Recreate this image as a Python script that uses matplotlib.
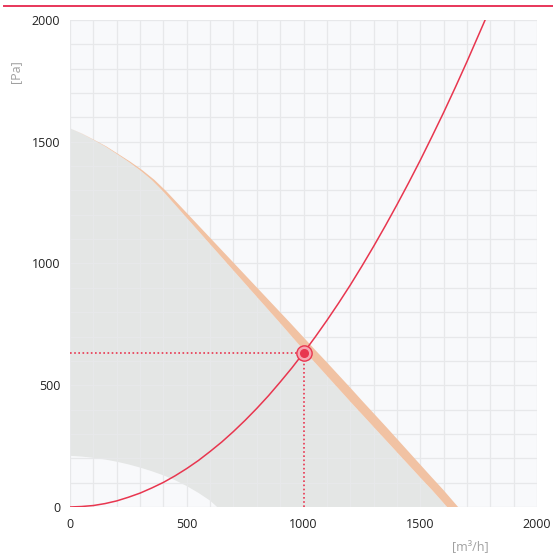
import matplotlib
matplotlib.use('Agg')
import matplotlib.pyplot as plt
from matplotlib.ticker import MultipleLocator

plt.rcParams['font.family'] = ['Open Sans', 'DejaVu Sans']

# fan curve, inner edge (top of the grey working area)
fan_q = [0, 50, 100, 150, 200, 250, 300, 350, 400, 450, 500, 550, 600, 650,
         700, 750, 800, 850, 900, 950, 1000, 1050, 1100, 1150, 1200, 1250,
         1300, 1350, 1400, 1450, 1500, 1550, 1615]
fan_p = [1555, 1533, 1508, 1481, 1450, 1418, 1383, 1343, 1295, 1241, 1187,
         1133, 1079, 1025, 971, 917, 863, 809, 755, 700, 645, 592, 539, 486,
         433, 381, 329, 277, 225, 173, 121, 70, 0]
# fan curve, outer edge of the orange band (same pressures)
fan_q_outer = [0, 52, 103, 155, 206, 258, 310, 362, 414, 467, 520, 573, 626,
               679, 732, 785, 838, 891, 944, 997, 1050, 1102, 1153, 1204,
               1254, 1304, 1354, 1403, 1452, 1501, 1550, 1599, 1662]

# minimum speed curve (lower edge of grey area)
min_q = [0, 50, 100, 150, 200, 250, 300, 350, 400, 450, 500, 550, 600, 630]
min_p = [210, 207, 202, 195, 186, 175, 162, 147, 130, 110, 86, 58, 26, 0]

# system curve
sys_q = [0, 50, 100, 150, 200, 250, 300, 350, 400, 450, 500, 550, 600, 650,
         700, 750, 800, 850, 900, 950, 1000, 1050, 1100, 1150, 1200, 1250,
         1300, 1350, 1400, 1450, 1500, 1550, 1600, 1650, 1700, 1750, 1780]
sys_p = [0, 2, 6, 14, 25, 40, 57, 78, 101, 128, 158, 191, 228, 267, 310, 356,
         405, 457, 513, 571, 633, 698, 766, 837, 911, 989, 1070, 1154, 1241,
         1331, 1424, 1521, 1620, 1723, 1829, 1939, 2005]

work_q, work_p = 1000, 633

RED = '#e8364f'

fig = plt.figure(figsize=(5.53, 5.55), dpi=100)
ax = fig.add_axes([0.1266, 0.0865, 0.8445, 0.8775])
ax.set_facecolor('#f8f9fb')

# grey working area
poly_q = fan_q + min_q[::-1]
poly_p = fan_p + min_p[::-1]
ax.fill(poly_q, poly_p, color='#e4e6e5', lw=0, zorder=1)

# orange band
band_q = fan_q + fan_q_outer[::-1]
band_p = fan_p + fan_p[::-1]
ax.fill(band_q, band_p, color='#f1c2a3', lw=0, zorder=2)

ax.plot(sys_q, sys_p, color=RED, lw=1.1, zorder=3)

ax.plot([0, work_q], [work_p, work_p], color=RED, lw=1.2, ls=(0, (1, 1.5)), zorder=3)
ax.plot([work_q, work_q], [0, work_p], color=RED, lw=1.2, ls=(0, (1, 1.5)), zorder=3)
ax.plot(work_q, work_p, 'o', ms=11, mfc='#f6a7b2', mec=RED, mew=1, zorder=4)
ax.plot(work_q, work_p, 'o', ms=5.5, mfc=RED, mec=RED, zorder=5)

ax.set_xlim(0, 2000)
ax.set_ylim(0, 2000)
ax.xaxis.set_major_locator(MultipleLocator(500))
ax.yaxis.set_major_locator(MultipleLocator(500))
ax.xaxis.set_minor_locator(MultipleLocator(100))
ax.yaxis.set_minor_locator(MultipleLocator(100))
ax.grid(True, which='both', color='#e7e8ea', lw=0.9)
ax.set_axisbelow('line')
ax.tick_params(which='both', length=0, labelsize=9, colors='#222222')
ax.tick_params(axis='y', pad=7)
ax.tick_params(axis='x', pad=8)
for s in ax.spines.values():
    s.set_visible(False)

fig.text(16 / 553, 1 - 72 / 555, '[Pa]', rotation=90, color='#a0a0a0',
         fontsize=9, ha='center', va='center')
fig.text(470 / 553, 1 - 547 / 555, '[m³/h]', color='#a0a0a0',
         fontsize=9, ha='center', va='center')

# header rule
fig.add_artist(plt.Line2D([4 / 553, 1], [1 - 6 / 555, 1 - 6 / 555],
                          color='#e8365a', lw=1.4))

fig.savefig('out.png', dpi=100)
